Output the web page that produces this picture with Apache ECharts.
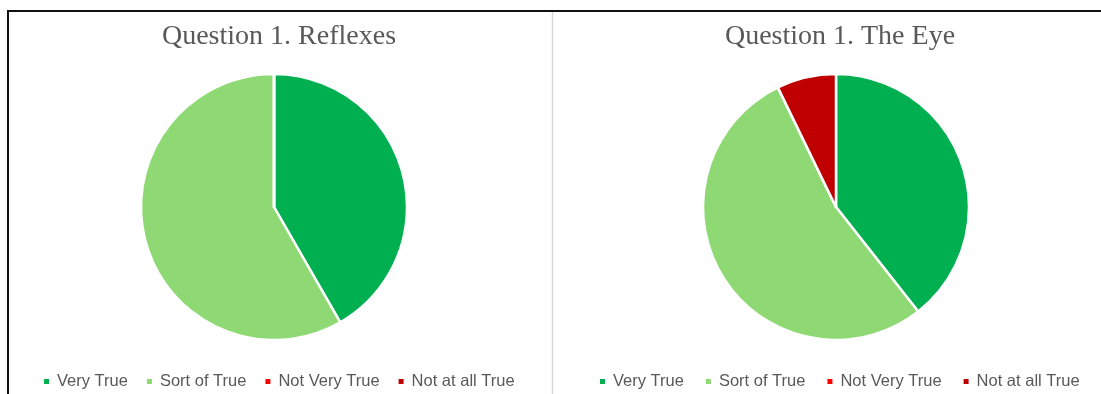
<!DOCTYPE html>
<html>
<head>
<meta charset="utf-8">
<script src="https://cdn.jsdelivr.net/npm/echarts@6/dist/echarts.min.js"></script>
<style>
html,body{margin:0;padding:0;background:#fff;}
#c{width:1101px;height:394px;}
</style>
</head>
<body>
<div id="c"></div>
<script>
const categories = ['Very True', 'Sort of True', 'Not Very True', 'Not at all True'];
const colors = ['#00B050', '#8ED973', '#FF0000', '#C00000'];
const titles = ['Question 1. Reflexes', 'Question 1. The Eye'];
const reflexesValues = [41.7, 58.3, 0, 0];
const eyeValues = [39.4, 53.4, 0, 7.2];

const chart = echarts.init(document.getElementById('c'));
function pieData(vals) {
  return categories.map((n, i) => ({ name: n, value: vals[i] }));
}
const legendCommon = {
  data: categories,
  icon: 'rect',
  itemWidth: 7,
  itemHeight: 7,
  itemGap: 17,
  top: 368,
  textStyle: { color: '#595959', fontSize: 16.5, fontFamily: 'Liberation Sans', padding: [0, 0, 0, 2] },
  selectedMode: false
};
const titleStyle = { fontFamily: 'Liberation Serif', fontSize: 28, fontWeight: 'normal', color: '#595959' };
const pieCommon = {
  type: 'pie',
  radius: 133,
  startAngle: 90,
  clockwise: true,
  label: { show: false },
  labelLine: { show: false },
  emphasis: { disabled: true },
  silent: true,
  animation: false,
  itemStyle: { borderColor: '#fff', borderWidth: 2.5 }
};
chart.setOption({
  color: colors,
  animation: false,
  title: [
    { text: titles[0], left: 274, top: 18, textAlign: 'center', textStyle: titleStyle },
    { text: titles[1], left: 835, top: 18, textAlign: 'center', textStyle: titleStyle }
  ],
  legend: [
    Object.assign({}, legendCommon, { left: 37 }),
    Object.assign({}, legendCommon, { left: 593, itemGap: 20 })
  ],
  series: [
    Object.assign({}, pieCommon, { center: [274, 207], data: pieData(reflexesValues) }),
    Object.assign({}, pieCommon, { center: [836, 207], data: pieData(eyeValues) })
  ],
  graphic: [
    { type: 'line', shape: { x1: 8, y1: 11, x2: 1101, y2: 11 }, style: { stroke: '#111', lineWidth: 2 } },
    { type: 'line', shape: { x1: 8, y1: 10, x2: 8, y2: 394 }, style: { stroke: '#111', lineWidth: 2 } },
    { type: 'line', shape: { x1: 552.5, y1: 12, x2: 552.5, y2: 394 }, style: { stroke: '#d9d9d9', lineWidth: 1.5 } }
  ]
});
</script>
</body>
</html>
